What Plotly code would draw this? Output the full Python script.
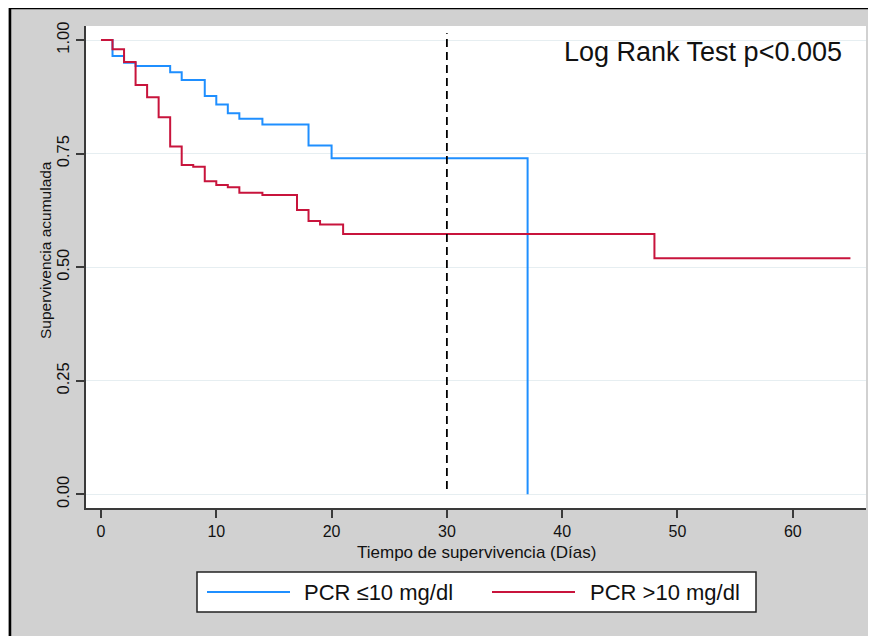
import plotly.graph_objects as go

# ---- data ----
t_low = [0, 1, 2, 3, 6, 7, 9, 10, 11, 12, 14, 18, 20, 37]
s_low = [1.0, 0.965, 0.950, 0.943, 0.929, 0.912, 0.877, 0.858, 0.839, 0.827, 0.814, 0.768, 0.740, 0.0]

t_high = [0, 1, 2, 3, 4, 5, 6, 7, 8, 9, 10, 11, 12, 14, 17, 18, 19, 21, 48, 65]
s_high = [1.0, 0.980, 0.952, 0.901, 0.874, 0.830, 0.766, 0.725, 0.721, 0.689, 0.681, 0.676,
          0.664, 0.659, 0.626, 0.602, 0.594, 0.573, 0.520, 0.520]

label_low = "PCR \u226410 mg/dl"
label_high = "PCR >10 mg/dl"
x_ticks = [0, 10, 20, 30, 40, 50, 60]
y_ticks = [0, 0.25, 0.5, 0.75, 1.0]
cutoff_day = 30
test_text = "Log Rank Test p<0.005"
x_title = "Tiempo de supervivencia (Días)"
y_title = "Supervivencia acumulada"

# ---- style ----
BLUE = "#1f8fff"
RED = "#c8143c"
GRAY = "#d1d1d1"
TXT = "#111111"
FONT = "Liberation Sans, Arial, sans-serif"
W, H = 876, 636
L, R, T, B = 78, 18, 18, 136
PW, PH = W - L - R, H - T - B


def px(xf):
    return (xf - L) / PW


def py(yf):
    return (H - B - yf) / PH


fig = go.Figure()
fig.add_trace(go.Scatter(x=t_low, y=s_low, mode="lines", line=dict(color=BLUE, width=2, shape="hv"),
                         name=label_low, showlegend=False))
fig.add_trace(go.Scatter(x=t_high, y=s_high, mode="lines", line=dict(color=RED, width=2, shape="hv"),
                         name=label_high, showlegend=False))

shapes = []
# black frame of the graph region (left and top edges visible)
shapes.append(dict(type="rect", xref="paper", yref="paper", x0=px(2), x1=px(900), y0=py(700), y1=py(0),
                   fillcolor="rgba(0,0,0,0)", line=dict(color="black", width=2.5), layer="below"))
# cutoff line
shapes.append(dict(type="line", xref="x", yref="y", x0=cutoff_day, x1=cutoff_day, y0=0.012, y1=1.015,
                   line=dict(color="black", width=1.8, dash="8px,5px")))
# legend box
lg_y0, lg_y1 = py(604), py(564)
lg_mid = (lg_y0 + lg_y1) / 2
shapes.append(dict(type="rect", xref="paper", yref="paper", x0=px(189), x1=px(748), y0=lg_y0, y1=lg_y1,
                   fillcolor="white", line=dict(color="#222222", width=1.5)))
shapes.append(dict(type="line", xref="paper", yref="paper", x0=px(199), x1=px(282), y0=lg_mid, y1=lg_mid,
                   line=dict(color=BLUE, width=2)))
shapes.append(dict(type="line", xref="paper", yref="paper", x0=px(484), x1=px(567), y0=lg_mid, y1=lg_mid,
                   line=dict(color=RED, width=2)))

annotations = [
    dict(text=test_text, xref="paper", yref="paper", x=px(836), y=py(44), xanchor="right", yanchor="middle",
         showarrow=False, font=dict(family=FONT, size=27, color=TXT)),
    dict(text=label_low, xref="paper", yref="paper", x=px(294), y=lg_mid, xanchor="left", yanchor="middle",
         showarrow=False, font=dict(family=FONT, size=22, color=TXT)),
    dict(text=label_high, xref="paper", yref="paper", x=px(580), y=lg_mid, xanchor="left", yanchor="middle",
         showarrow=False, font=dict(family=FONT, size=22, color=TXT)),
    # axis titles
    dict(text=x_title, xref="paper", yref="paper", x=px(468), y=py(544), xanchor="center", yanchor="middle",
         showarrow=False, font=dict(family=FONT, size=17, color=TXT)),
    dict(text=y_title, xref="paper", yref="paper", x=px(37), y=py(242), xanchor="center", yanchor="middle",
         textangle=-90, showarrow=False, font=dict(family=FONT, size=15.5, color=TXT)),
]

fig.update_layout(
    width=W, height=H,
    margin=dict(l=L, r=R, t=T, b=B, autoexpand=False),
    paper_bgcolor=GRAY, plot_bgcolor="white",
    font=dict(family=FONT, color=TXT),
    shapes=shapes, annotations=annotations,
    showlegend=False,
)
fig.update_xaxes(
    range=[-1.3, 66.35], tickvals=x_ticks, showgrid=False, zeroline=False,
    showline=True, linecolor="#3a3a3a", linewidth=2,
    ticks="outside", ticklen=8, tickwidth=1.5, tickcolor="#3a3a3a", ticklabelstandoff=0,
    tickfont=dict(family=FONT, size=16, color=TXT),
    automargin=False,
)
fig.update_yaxes(
    range=[-0.030, 1.031], tickvals=y_ticks, tickformat=".2f", tickangle=-90,
    showgrid=True, gridcolor="#e6eef1", gridwidth=1, zeroline=False,
    showline=True, linecolor="#3a3a3a", linewidth=2,
    ticks="outside", ticklen=8, tickwidth=1.5, tickcolor="#3a3a3a", ticklabelstandoff=0,
    tickfont=dict(family=FONT, size=16.5, color=TXT),
    automargin=False,
)

fig.write_html("out.html")
